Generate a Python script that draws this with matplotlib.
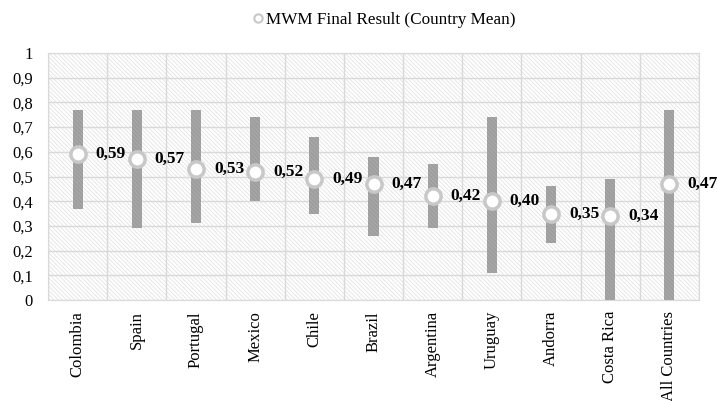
import numpy as np
import matplotlib.pyplot as plt
from matplotlib.patches import Rectangle
from matplotlib.lines import Line2D
from matplotlib.ticker import FuncFormatter

plt.rcParams['font.family'] = ['Liberation Serif', 'DejaVu Serif']
plt.rcParams['hatch.linewidth'] = 0.6

countries = ['Colombia', 'Spain', 'Portugal', 'Mexico', 'Chile', 'Brazil',
             'Argentina', 'Uruguay', 'Andorra', 'Costa Rica', 'All Countries']
mean_vals = [0.59, 0.57, 0.53, 0.52, 0.49, 0.47, 0.42, 0.40, 0.35, 0.34, 0.47]
min_vals = [0.37, 0.29, 0.31, 0.40, 0.35, 0.26, 0.29, 0.11, 0.23, 0.0, 0.0]
max_vals = [0.77, 0.77, 0.77, 0.74, 0.66, 0.58, 0.55, 0.74, 0.46, 0.49, 0.77]
mean_labels = ['0,59', '0,57', '0,53', '0,52', '0,49', '0,47',
               '0,42', '0,40', '0,35', '0,34', '0,47']

fig = plt.figure(figsize=(7.17, 4.01), dpi=100)
ax = fig.add_axes([48/717, 1-300/401, 651/717, 247/401])

x = np.arange(len(countries))
ax.set_xlim(-0.5, len(countries)-0.5)
ax.set_ylim(0, 1)

# hatched background
bg = Rectangle((0, 0), 1, 1, transform=ax.transAxes, facecolor='white',
               edgecolor='#e3e3e3', hatch='\\' * 8, lw=0, zorder=0)
ax.add_patch(bg)

ax.set_yticks(np.arange(0, 1.01, 0.1))
ax.yaxis.set_major_formatter(FuncFormatter(lambda v, p: ('%.1f' % v).replace('.', ',') if 0 < v < 1 else '%d' % round(v)))
ax.set_xticks(x)
ax.set_xticklabels(countries, rotation=90, fontsize=12)
ax.set_xticks(np.arange(-0.5, len(countries), 1), minor=True)
ax.tick_params(axis='y', labelsize=12, length=0, pad=11)
ax.tick_params(axis='x', which='both', length=0, pad=8)
ax.grid(True, axis='y', which='major', color='#d9d9d9', lw=1)
ax.grid(True, axis='x', which='minor', color='#d9d9d9', lw=1)
ax.grid(False, axis='x', which='major')
ax.set_axisbelow(True)
for s in ax.spines.values():
    s.set_color('#d9d9d9')

heights = [hi - lo for hi, lo in zip(max_vals, min_vals)]
ax.bar(x, heights, bottom=min_vals, width=0.17, color='#a6a6a6',
       edgecolor='#989898', hatch='\\' * 8, lw=0, zorder=2)

ax.plot(x, mean_vals, 'o', ms=11, mfc='white', mec='#c8c8c8', mew=2.5,
        zorder=3, clip_on=False)

for xi, yi, lab in zip(x, mean_vals, mean_labels):
    ax.annotate(lab, (xi, yi), xytext=(18, 0), textcoords='offset pixels',
                ha='left', va='center', fontsize=12.5, fontweight='bold',
                annotation_clip=False)

handle = Line2D([], [], marker='o', ls='none', ms=6, mfc='white',
                mec='#c8c8c8', mew=1.5)
fig.legend([handle], ['MWM Final Result (Country Mean)'], loc='center',
           bbox_to_anchor=(383/717, 1-20/401), frameon=False, fontsize=12.3,
           handletextpad=0.0, handlelength=0.9)

fig.savefig('out.png', dpi=100)
